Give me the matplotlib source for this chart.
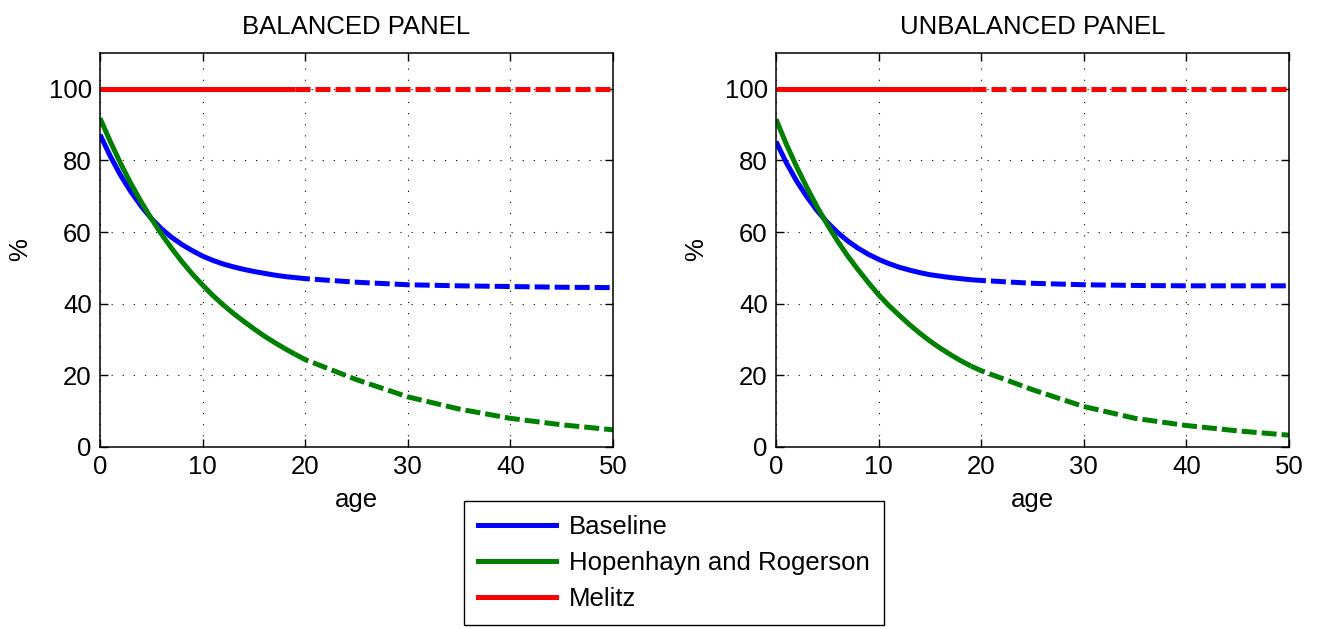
import matplotlib.pyplot as plt
from matplotlib.lines import Line2D

plt.rcParams['font.family'] = ['Liberation Sans', 'DejaVu Sans']

age = [0, 1, 2, 3, 4, 5, 6, 7, 8, 9, 10, 11, 12, 13, 14, 15, 16, 17, 18, 19, 20,
       25, 30, 35, 40, 45, 50]

# balanced panel
bal_base = [87.2, 81.2, 75.9, 71.3, 67.3, 63.8, 60.9, 58.5, 56.5, 54.8, 53.3, 52.1,
            51.1, 50.3, 49.6, 49.0, 48.5, 48.0, 47.6, 47.3, 47.0,
            46.0, 45.3, 45.0, 44.8, 44.6, 44.5]
bal_hr = [91.8, 85.3, 79.2, 73.6, 68.5, 63.8, 59.4, 55.4, 51.7, 48.3, 45.2, 42.3,
          39.7, 37.3, 35.1, 33.0, 31.0, 29.2, 27.5, 25.9, 24.4,
          18.8, 14.0, 10.6, 8.0, 6.2, 4.8]
# unbalanced panel
unbal_base = [85.3, 79.4, 74.3, 69.9, 66.0, 62.7, 59.9, 57.5, 55.5, 53.8, 52.4, 51.2,
              50.2, 49.4, 48.7, 48.1, 47.7, 47.3, 47.0, 46.7, 46.5,
              45.7, 45.3, 45.1, 45.0, 45.0, 45.0]
unbal_hr = [91.5, 84.6, 78.3, 72.5, 67.1, 62.1, 57.5, 53.3, 49.5, 45.9, 42.5, 39.5,
            36.8, 34.2, 31.8, 29.6, 27.6, 25.8, 24.1, 22.6, 21.3,
            16.0, 11.3, 8.0, 6.0, 4.5, 3.3]
melitz = [100.0] * len(age)

split_age = 19
labels = ['Baseline', 'Hopenhayn and Rogerson', 'Melitz']
colors = ['#0000ff', '#008000', '#ff0000']

fs = 18.5
lw = 3.6

fig = plt.figure(figsize=(13.24, 6.29), dpi=100)
ax1 = fig.add_axes([100/1324, 182/629, 513/1324, 394/629])
ax2 = fig.add_axes([776/1324, 182/629, 513/1324, 394/629])


def draw_panel(ax, title, base, hr):
    i = age.index(split_age)
    for ys, c in zip([base, hr, melitz], colors):
        ax.plot(age[:i+1], ys[:i+1], color=c, lw=lw, solid_capstyle='butt',
                solid_joinstyle='round')
        ax.plot(age[i:], ys[i:], color=c, lw=lw, dashes=(3, 1))
    ax.set_xlim(0, 50)
    ax.set_ylim(0, 110)
    ax.set_xticks([0, 10, 20, 30, 40, 50])
    ax.set_yticks([0, 20, 40, 60, 80, 100])
    ax.grid(True, color='black', linestyle=(0, (1, 9)), linewidth=0.8)
    ax.tick_params(direction='in', length=6, width=1, top=True, right=True,
                   labelsize=fs, pad=6)
    for s in ax.spines.values():
        s.set_linewidth(1.1)
    ax.set_title(title, fontsize=fs, pad=14)
    ax.set_xlabel('age', fontsize=fs, labelpad=6)
    ax.set_ylabel('%', fontsize=fs, labelpad=12)


draw_panel(ax1, 'BALANCED PANEL', bal_base, bal_hr)
draw_panel(ax2, 'UNBALANCED PANEL', unbal_base, unbal_hr)

handles = [Line2D([], [], color=c, lw=lw) for c in colors]
leg = fig.legend(handles, labels, loc='center', bbox_to_anchor=(674/1324, 1 - 563/629),
                 fontsize=fs, handlelength=3.05, handletextpad=0.5, labelspacing=0.48,
                 fancybox=False, framealpha=1, edgecolor='black', borderpad=0.55)
leg.get_frame().set_linewidth(1.0)

fig.savefig('out.png', dpi=100)
